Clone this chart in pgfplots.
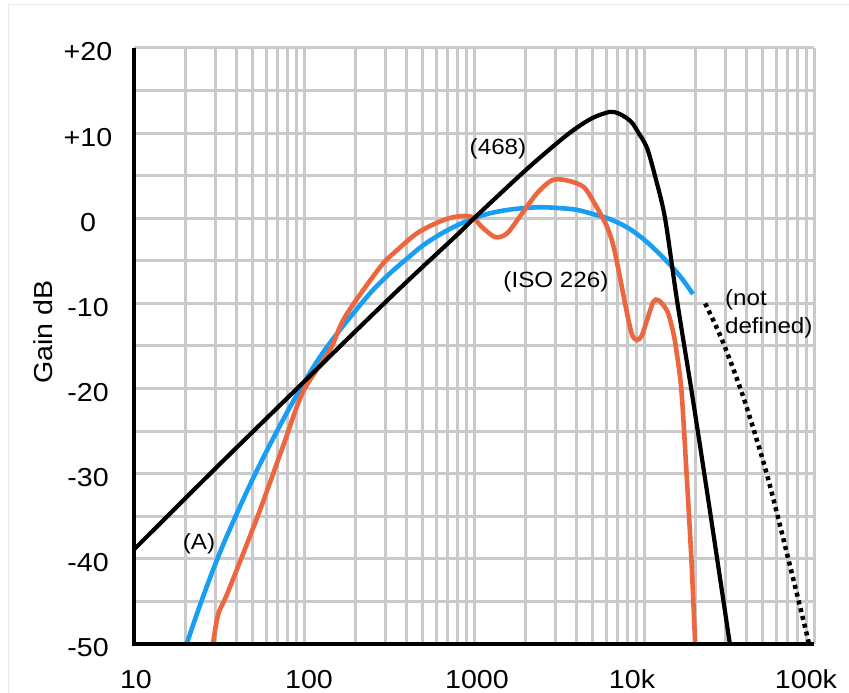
\documentclass[border=0pt]{standalone}
\usepackage{pgfplots}
\pgfplotsset{compat=1.18}
\usepackage{fontspec}
\setmainfont{Liberation Sans}[FakeStretch=1.1]
\definecolor{gridgray}{RGB}{202,202,202}
\definecolor{minorgray}{RGB}{238,238,238}
\definecolor{ablue}{RGB}{24,158,243}
\definecolor{isoorange}{RGB}{236,102,64}
\definecolor{framegray}{RGB}{232,232,232}
\begin{document}
\begin{tikzpicture}[x=1pt,y=1pt]
\useasboundingbox (0,0) rectangle (849,693);
\draw[framegray, line width=1pt] (8,0) -- (8,688) -- (849,688);
\begin{axis}[
  at={(134pt,49pt)}, anchor=south west,
  scale only axis, width=680pt, height=596pt,
  xmode=log, xmin=10, xmax=100000, ymin=-50, ymax=20,
  axis line style={draw=none},
  major tick length=0pt, minor tick length=0pt,
  xtick={10,100,1000,10000,100000},
  xticklabels={{\kern4pt 10},{\kern10pt 100},{\kern6pt 1000},{\kern-24pt 10k},{\kern-16pt 100k}},
  minor xtick={20,30,40,50,60,70,80,90,200,300,400,500,600,700,800,900,2000,3000,4000,5000,6000,7000,8000,9000,20000,30000,40000,50000,60000,70000,80000,90000},
  ytick={-50,-40,...,20},
  yticklabels={-50,-40,-30,-20,-10,0,+10,+20},
  extra y ticks={-45,-35,-25,-15,-5,5,15},
  extra y tick labels={},
  extra y tick style={grid style={minorgray, line width=1.2pt}},
  xmajorgrids, xminorgrids, ymajorgrids,
  major grid style={gridgray, line width=3pt},
  minor grid style={gridgray, line width=3pt},
  tick label style={font=\fontsize{26}{30}\selectfont},
  xticklabel style={anchor=base, inner sep=0pt, text depth=0pt, yshift=-45pt},
  yticklabel style={anchor=center, xshift=-46pt, yshift=-4pt},
  clip=true,
  after end axis/.code={
    \draw[black, line width=4.5pt] (rel axis cs:0,1) -- (rel axis cs:0,0) -- (rel axis cs:1,0);
  },
]
% A-weighting (blue)
\addplot[ablue, line width=4.6pt, smooth, tension=0.6] coordinates {
(20,-50.5) (25,-44.9) (31.5,-39.6) (40,-34.8) (50,-30.6) (63,-26.6) (80,-22.7)
(100,-19.3) (125,-16.2) (160,-13.3) (200,-10.9) (250,-8.6) (315,-6.6) (400,-4.8)
(500,-3.2) (630,-1.9) (800,-0.8) (1000,0) (1250,0.6) (1600,1.0) (2000,1.2)
(2500,1.3) (3150,1.2) (4000,1.0) (5000,0.5) (6300,-0.1) (8000,-1.1)
(10000,-2.5) (12500,-4.3) (16000,-6.6) (19400,-8.9)
};
% ISO 226 (orange)
\addplot[isoorange, line width=4.6pt, smooth, tension=0.5] coordinates {
(28.8,-50.7) (31.2,-46.6) (35.7,-43.9) (53.6,-34.9) (75.2,-26.8) (98.6,-20.4)
(142,-15.5) (174,-11.6) (280,-5.75) (352,-3.76) (462,-1.76) (614,-0.47)
(752,0.12) (910,0.27) (1000,0) (1110,-1.0) (1330,-2.2) (1560,-1.8) (1860,0.2) (2340,2.9)
(2900,4.5) (3600,4.4) (4400,3.7) (5000,2.1) (6000,-0.8) (6600,-3.2) (7200,-6.8)
(7700,-9.8) (8450,-13.5) (9050,-14.3) (9700,-13.8) (10400,-12.0) (11350,-9.8)
(12100,-9.6) (13000,-10.2) (13900,-11.2) (14900,-13.5) (15500,-15.5)
(16600,-20.2) (17800,-30) (19000,-40) (20000,-50) (20400,-54)
};
% ITU-R 468 (black)
\addplot[black, line width=4.2pt, smooth, tension=0.5] coordinates {
(10,-38.9) (31.5,-29.0) (100,-19.2) (200,-13.3) (400,-7.5) (800,-1.9) (1000,0)
(2000,5.6) (3150,9.0) (4000,10.6) (5000,11.8) (6300,12.5) (7100,12.3)
(8000,11.7) (8600,11.1) (9300,10.0) (10400,8.3) (11600,5.0) (13300,0)
(15600,-9.5) (19400,-21.3) (24400,-34.3) (32000,-50) (34000,-53.5)
};
% not defined (dotted)
\addplot[black, line width=4.5pt, dash pattern=on 4pt off 4pt, smooth, tension=0.5] coordinates {
(22900,-10.0) (28800,-14.3) (38400,-21.0) (52700,-30.0) (70600,-40.0) (92500,-49.6) (95000,-51)
};
\node[font=\fontsize{22}{26}\selectfont, inner sep=0pt] at (axis cs:1384,8.2) {(468)};
\node[font=\fontsize{22}{26}\selectfont, inner sep=0pt] at (axis cs:3034,-7.5) {(ISO 226)};
\node[font=\fontsize{22}{26}\selectfont, inner sep=0pt] at (axis cs:24.1,-38.2) {(A)};
\node[font=\fontsize{22}{28}\selectfont, inner sep=0pt, anchor=west, align=left] at (axis cs:29900,-11.2) {(not\\defined)};
\end{axis}
\node[rotate=90, font=\fontsize{26}{30}\selectfont] at (43,361) {Gain dB};
\end{tikzpicture}
\end{document}
